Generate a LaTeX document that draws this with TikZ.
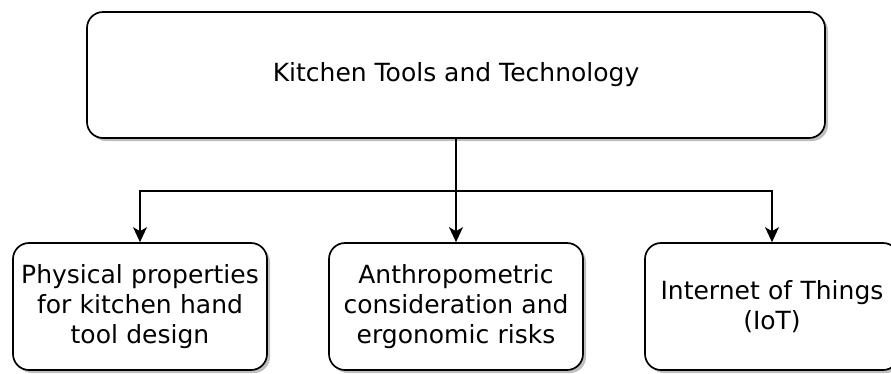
\documentclass[tikz,border=0pt]{standalone}
\usepackage{fontspec}
\setmainfont{DejaVu Sans}
\usetikzlibrary{arrows.meta,shadows}

\begin{document}
\begin{tikzpicture}[x=1pt, y=-1pt]
        \tikzset{
            box/.style={draw, line width=1.7pt, rounded corners=16pt, fill=white,
                drop shadow={shadow xshift=3pt, shadow yshift=-3pt, fill=black!25, opacity=1},
                align=center, font=\fontsize{25}{30}\selectfont, inner sep=0pt},
            topbox/.style={box, minimum width=738pt, minimum height=126pt},
            subbox/.style={box, minimum width=254pt, minimum height=127pt, text width=250pt},
            link/.style={line width=1.4pt, -{Stealth[length=15pt, width=14pt, inset=4pt]}}
        }
        \useasboundingbox (0,0) rectangle (891,373);

        % Main topic
        \node[topbox] (main) at (456,75) {Kitchen Tools and Technology};

        % Subtopics
        \node[subbox] (phys) at (140,306.5) {Physical properties\\for kitchen hand\\tool design};
        \node[subbox] (anth) at (456,306.5) {Anthropometric\\consideration and\\ergonomic risks};
        \node[subbox] (iot) at (772,306.5) {Internet of Things\\(IoT)};

        % Connectors
        \coordinate (bus) at (456,191);
        \draw[link] (main.south) -- (anth.north);
        \draw[link] (bus) -| (phys.north);
        \draw[link] (bus) -| (iot.north);
    \end{tikzpicture}
\end{document}
